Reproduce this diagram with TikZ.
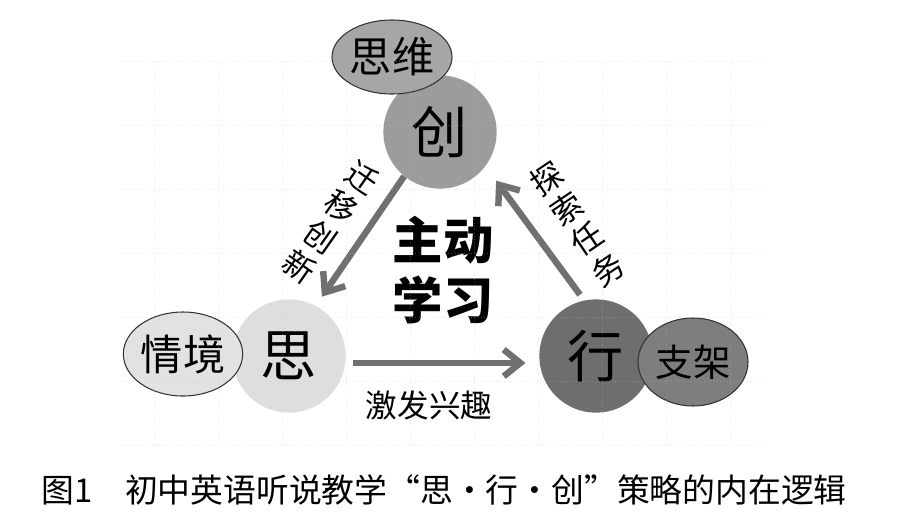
\documentclass[tikz,border=0pt]{standalone}
\usepackage{fontspec}
\setmainfont{Noto Sans CJK SC}
\usetikzlibrary{shapes.geometric,arrows.meta}

\definecolor{chuangfill}{HTML}{9C9C9C}
\definecolor{sifill}{HTML}{DEDEDE}
\definecolor{xingfill}{HTML}{6E6E6E}
\definecolor{siweifill}{HTML}{A6A6A6}
\definecolor{qingjingfill}{HTML}{E2E2E2}
\definecolor{zhijiafill}{HTML}{7E7E7E}
\definecolor{arrowgray}{HTML}{707070}

\tikzset{
  bigcirc/.style={circle, minimum size=3.4cm, inner sep=0pt, font=\fontsize{48}{48}\selectfont},
  tag/.style={ellipse, draw=black!80, line width=0.9pt, inner sep=0pt, font=\fontsize{36}{36}\selectfont},
  arr/.style={draw=arrowgray, line width=5.5pt, -{Straight Barb[length=0.5cm,width=0.8cm]}},
  lbl/.style={font=\fontsize{27}{31}\selectfont, align=center, inner sep=0pt},
}

\begin{document}
\begin{tikzpicture}[x=0.03cm, y=-0.03cm]
  \useasboundingbox[fill=white] (0,0) rectangle (900,526);

  % three circles
  \node[bigcirc, fill=chuangfill] (chuang) at (440,132) {创};
  \node[bigcirc, fill=sifill] (si) at (289,356) {思\hspace{0.5em}};
  \node[bigcirc, fill=xingfill] (xing) at (596,356) {行};

  % small tags
  \node[tag, fill=siweifill, minimum width=3.6cm, minimum height=2.22cm] (siwei) at (392,57) {思维};
  \node[tag, fill=qingjingfill, minimum width=3.48cm, minimum height=2.52cm] (qingjing) at (183,354) {情境};
  \node[tag, fill=zhijiafill, minimum width=3.3cm, minimum height=2.64cm, font=\fontsize{32}{32}\selectfont] (zhijia) at (693,362) {支架};

  % arrows
  \draw[arr, shorten >=0.33cm] (chuang.231) -- (si.62);
  \draw[arr, shorten <=0.21cm, shorten >=0.54cm] (xing.102) -- (chuang.-37);
  \draw[arr, shorten <=0.24cm, shorten >=0.42cm] (si.-7) -- (xing.187)
    node[lbl, midway, below=0.75cm, xshift=-0.4cm] (jifa) {激发兴趣};

  % arrow labels
  \node[lbl, rotate=-35] (qianyi) at (331,222) {迁\\移\\创\\新};
  \node[lbl, rotate=34] (tansuo) at (577,224) {探\\索\\任\\务};

  % centre
  \node[font=\fontsize{43}{51}\selectfont\bfseries, align=center] (zhudong) at (443,270) {主动\\学习};

  % faint dotted grid
  \foreach \gx in {154,218,...,730} {
    \draw[black!25, opacity=0.35, dotted, line width=0.8pt] (\gx,62) -- (\gx,445);
  }
  \foreach \gy in {61,125,...,445} {
    \draw[black!25, opacity=0.35, dotted, line width=0.8pt] (120,\gy) -- (765,\gy);
  }

  % caption
  \node[font=\fontsize{28}{28}\selectfont] (caption) at (444,490) {图1\quad 初中英语听说教学“思·行·创”策略的内在逻辑};
\end{tikzpicture}
\end{document}
